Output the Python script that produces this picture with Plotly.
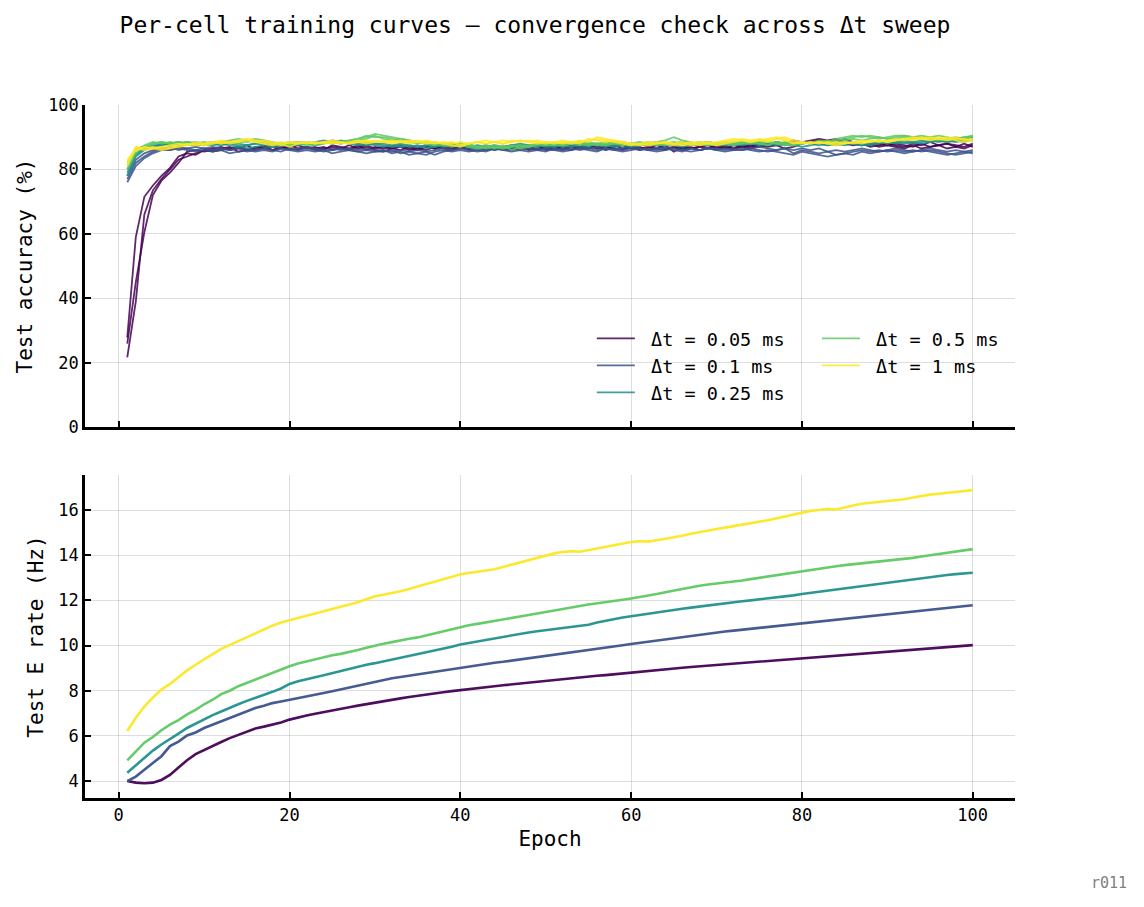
import plotly.graph_objects as go
from plotly.subplots import make_subplots

epochs = list(range(1, 101))
dt_labels = ["Δt = 0.05 ms", "Δt = 0.1 ms", "Δt = 0.25 ms", "Δt = 0.5 ms", "Δt = 1 ms"]
colors = ["rgba(68,1,84,0.85)", "rgba(59,82,139,0.85)", "rgba(33,145,140,0.85)",
          "rgba(94,201,98,0.85)", "rgba(253,231,37,0.85)"]
rate_colors = ["rgba(68,1,84,0.95)", "rgba(59,82,139,0.95)", "rgba(33,145,140,0.95)",
               "rgba(94,201,98,0.95)", "rgba(253,231,37,0.95)"]

# ---- Test accuracy (%) : three cells per Δt ----
acc_005_a = [27.8, 59.0, 71.5, 75.0, 78.0, 80.5, 84.0, 85.0, 84.5, 86.0,
             86.5, 87.0, 86.0, 86.5, 87.5, 86.0, 87.0, 87.5, 86.5, 87.0,
             87.5, 86.5, 87.0, 86.0, 87.5, 87.0, 86.5, 87.5, 86.0, 87.0,
             86.5, 87.0, 87.5, 86.5, 86.0, 87.0, 86.5, 87.5, 87.0, 86.5,
             87.0, 86.5, 87.5, 86.0, 87.0, 87.5, 86.5, 87.0, 86.0, 86.5,
             87.0, 86.5, 87.5, 87.0, 86.5, 87.5, 86.0, 87.0, 87.5, 86.5,
             87.0, 86.0, 86.5, 87.5, 85.5, 87.0, 86.5, 87.0, 87.5, 86.5,
             87.0, 86.5, 87.5, 87.0, 88.0, 87.5, 88.5, 88.0, 89.0, 88.5,
             89.0, 89.5, 89.0, 89.5, 88.5, 88.0, 87.5, 88.0, 87.0, 87.5,
             87.0, 86.5, 87.5, 86.5, 87.0, 87.5, 86.5, 87.0, 86.5, 87.5]
acc_005_b = [25.9, 45.0, 60.5, 72.0, 76.5, 79.0, 82.0, 85.5, 86.0, 85.5,
             86.0, 86.5, 87.0, 85.5, 86.0, 87.0, 86.5, 86.0, 87.0, 86.5,
             86.0, 87.0, 86.5, 87.0, 86.0, 86.5, 87.5, 86.5, 87.0, 86.0,
             85.5, 86.5, 86.0, 87.0, 86.5, 86.0, 87.0, 86.5, 86.0, 87.0,
             86.5, 87.0, 86.0, 86.5, 87.0, 86.5, 87.0, 86.0, 86.5, 87.0,
             86.5, 86.0, 87.0, 86.5, 87.5, 86.5, 87.0, 86.5, 86.0, 87.0,
             86.5, 87.0, 86.5, 86.0, 87.0, 86.5, 87.0, 86.0, 86.5, 87.0,
             86.5, 87.5, 87.0, 86.5, 87.5, 87.0, 87.5, 86.5, 87.0, 88.0,
             88.5, 88.0, 88.5, 89.0, 88.0, 87.5, 88.0, 87.0, 87.5, 88.0,
             87.5, 87.0, 88.0, 87.5, 88.5, 87.5, 88.0, 87.0, 88.0, 87.0]
acc_005_c = [21.6, 39.0, 66.0, 73.5, 77.0, 80.0, 83.0, 84.0, 85.0, 86.0,
             85.5, 86.0, 86.5, 87.0, 86.0, 86.5, 87.5, 86.0, 86.5, 87.5,
             86.5, 87.0, 86.0, 86.5, 87.0, 86.5, 86.0, 87.0, 87.5, 86.5,
             87.0, 86.5, 87.0, 86.0, 86.5, 87.5, 86.5, 87.0, 86.5, 87.0,
             86.0, 87.0, 86.5, 87.0, 86.5, 86.0, 87.0, 86.5, 87.5, 86.0,
             87.0, 86.5, 86.0, 87.5, 86.5, 87.0, 86.5, 87.5, 86.5, 87.0,
             86.0, 86.5, 87.5, 86.5, 87.0, 86.0, 86.5, 87.0, 86.5, 87.5,
             87.0, 86.5, 87.0, 87.5, 87.0, 88.0, 87.5, 88.0, 88.5, 88.0,
             88.5, 89.0, 88.5, 88.0, 89.5, 88.5, 88.0, 87.5, 88.0, 87.5,
             88.0, 87.5, 87.0, 88.0, 87.0, 87.5, 88.0, 87.5, 87.0, 88.0]

acc_01_a = [76.0, 81.0, 83.5, 85.0, 86.0, 86.0, 86.5, 86.0, 85.5, 86.0,
            85.5, 86.0, 85.0, 85.5, 86.0, 85.5, 86.0, 85.5, 86.5, 86.0,
            85.5, 86.0, 85.5, 86.0, 85.0, 85.5, 86.0, 85.5, 85.0, 85.5,
            86.0, 85.0, 85.5, 84.5, 85.0, 84.5, 85.5, 86.0, 85.5, 86.0,
            85.5, 86.0, 85.5, 86.5, 86.0, 85.5, 86.0, 85.5, 86.0, 86.5,
            86.0, 85.5, 86.0, 86.5, 86.0, 85.5, 86.5, 86.0, 85.5, 86.0,
            86.5, 86.0, 85.5, 86.0, 86.5, 86.0, 85.5, 86.0, 86.5, 86.0,
            85.5, 86.0, 86.5, 86.0, 85.5, 86.0, 85.5, 85.0, 84.5, 85.5,
            85.0, 84.5, 84.0, 84.5, 85.0, 84.5, 85.5, 85.0, 85.5, 86.0,
            85.5, 85.0, 85.5, 86.0, 85.5, 85.0, 84.5, 85.0, 85.5, 85.0]
acc_01_b = [77.0, 82.0, 84.0, 85.5, 86.5, 87.0, 86.0, 86.5, 86.0, 86.5,
            86.0, 86.5, 86.0, 86.5, 85.5, 86.0, 86.5, 86.0, 85.5, 86.5,
            86.0, 86.5, 86.0, 85.5, 86.0, 86.5, 86.0, 85.5, 86.0, 85.5,
            85.5, 86.0, 85.0, 85.5, 85.0, 85.5, 84.5, 85.5, 86.0, 86.5,
            86.0, 85.5, 86.0, 86.5, 86.0, 86.5, 86.0, 86.5, 86.0, 85.5,
            86.5, 86.0, 86.5, 86.0, 86.5, 87.0, 86.0, 86.5, 86.0, 86.5,
            86.0, 86.5, 86.0, 86.5, 86.0, 85.5, 86.5, 86.0, 86.5, 86.0,
            86.5, 86.0, 86.0, 86.5, 86.0, 85.5, 86.0, 86.5, 85.0, 86.0,
            85.5, 85.0, 85.5, 84.5, 85.0, 85.5, 86.0, 85.5, 86.0, 85.5,
            86.0, 85.5, 86.0, 85.5, 86.0, 85.5, 85.0, 84.5, 85.0, 85.5]
acc_01_c = [78.0, 83.0, 85.0, 86.0, 86.5, 86.0, 87.0, 86.5, 87.0, 86.5,
            87.0, 86.5, 86.0, 87.0, 86.5, 86.0, 86.5, 87.0, 86.5, 86.0,
            86.5, 87.0, 86.5, 86.0, 86.5, 86.0, 86.5, 86.0, 86.5, 86.0,
            86.0, 85.5, 86.0, 85.5, 86.0, 85.5, 86.0, 86.5, 86.0, 86.5,
            86.5, 86.0, 86.5, 86.0, 86.5, 86.0, 86.5, 87.0, 86.5, 86.0,
            86.0, 86.5, 86.0, 87.0, 86.5, 86.0, 86.5, 86.0, 86.5, 87.0,
            86.5, 86.0, 86.5, 87.0, 86.5, 86.0, 86.5, 86.0, 86.5, 86.5,
            86.0, 86.5, 86.0, 86.5, 87.0, 86.5, 86.0, 86.5, 86.0, 86.5,
            86.0, 86.5, 85.5, 86.0, 85.5, 86.0, 86.5, 86.0, 85.5, 86.0,
            86.5, 86.0, 85.5, 86.0, 86.5, 86.0, 85.5, 86.0, 85.5, 86.0]

acc_025_a = [78.0, 84.0, 86.0, 87.0, 87.5, 88.0, 88.5, 88.0, 87.5, 88.0,
             88.5, 88.0, 87.5, 87.0, 87.5, 88.0, 87.5, 87.0, 87.5, 88.0,
             88.5, 88.0, 87.5, 88.0, 89.0, 88.5, 88.0, 87.5, 88.0, 87.5,
             87.0, 87.5, 88.0, 87.5, 87.0, 87.5, 87.0, 87.5, 88.0, 87.5,
             87.0, 87.5, 87.0, 86.5, 87.0, 87.5, 88.0, 87.5, 87.0, 87.5,
             87.0, 87.5, 88.0, 87.5, 87.0, 88.0, 87.5, 88.0, 87.5, 87.0,
             87.5, 88.0, 88.5, 88.0, 87.5, 88.0, 87.5, 88.0, 88.5, 88.0,
             87.5, 88.0, 87.5, 88.0, 88.5, 88.0, 87.5, 88.0, 87.5, 87.0,
             87.5, 88.0, 87.5, 88.0, 87.5, 88.0, 87.5, 88.0, 88.5, 88.0,
             88.5, 88.0, 88.5, 89.0, 88.5, 89.0, 88.5, 89.0, 88.5, 89.5]
acc_025_b = [79.0, 84.5, 86.5, 87.0, 88.0, 87.5, 88.0, 88.5, 88.0, 87.5,
             88.0, 87.5, 88.0, 87.5, 86.5, 87.0, 87.5, 88.0, 87.5, 88.0,
             87.5, 88.0, 88.5, 89.0, 88.5, 88.0, 88.5, 88.0, 87.5, 88.0,
             87.5, 87.0, 87.5, 87.0, 87.5, 86.5, 87.0, 87.5, 88.0, 87.5,
             87.0, 86.5, 87.0, 87.5, 87.0, 87.5, 87.0, 87.5, 87.0, 88.0,
             87.5, 87.0, 87.5, 88.0, 87.5, 88.0, 87.5, 87.0, 87.5, 88.0,
             87.5, 88.0, 87.5, 88.0, 87.5, 87.0, 87.5, 88.0, 87.5, 88.0,
             88.0, 87.5, 88.0, 88.5, 88.0, 87.5, 88.0, 87.5, 88.0, 88.5,
             88.0, 87.5, 88.0, 87.5, 88.0, 88.5, 88.0, 87.5, 88.0, 88.5,
             88.0, 88.5, 88.0, 88.5, 89.0, 88.5, 89.0, 88.5, 89.0, 89.0]
acc_025_c = [80.0, 85.0, 86.5, 87.5, 87.5, 88.0, 87.5, 88.0, 88.5, 88.0,
             87.5, 88.0, 88.5, 88.0, 87.5, 88.0, 88.5, 88.0, 87.5, 87.0,
             88.0, 88.5, 88.0, 88.5, 88.0, 89.0, 88.5, 88.0, 88.5, 88.0,
             88.0, 87.5, 87.0, 87.5, 87.0, 87.5, 87.5, 87.0, 87.5, 87.0,
             87.5, 87.0, 87.5, 87.0, 86.5, 87.0, 87.5, 87.0, 87.5, 87.0,
             87.0, 87.5, 87.0, 87.5, 88.0, 87.5, 87.0, 87.5, 88.0, 87.5,
             88.0, 87.5, 88.0, 87.5, 88.0, 88.5, 88.0, 87.5, 88.0, 87.5,
             87.5, 88.0, 88.5, 88.0, 87.5, 88.0, 88.5, 88.0, 87.5, 88.0,
             88.5, 88.0, 87.5, 88.0, 88.5, 88.0, 87.5, 88.0, 88.5, 88.0,
             88.5, 89.0, 88.5, 88.0, 88.5, 89.0, 88.5, 89.0, 89.5, 90.0]

acc_05_a = [80.0, 85.0, 87.0, 88.0, 88.5, 88.0, 88.5, 88.0, 87.5, 88.0,
            88.5, 88.0, 88.5, 89.0, 88.5, 89.0, 88.0, 87.5, 88.0, 87.5,
            88.0, 88.5, 88.0, 88.5, 89.0, 88.5, 89.0, 89.5, 90.0, 91.0,
            90.5, 90.0, 89.5, 89.0, 88.5, 88.0, 88.5, 87.5, 88.0, 87.5,
            88.0, 87.0, 87.5, 86.5, 87.5, 86.0, 87.0, 87.5, 88.0, 87.5,
            88.0, 87.5, 88.0, 87.5, 88.5, 88.0, 87.5, 88.0, 88.5, 88.0,
            87.5, 88.0, 88.5, 89.0, 90.0, 89.0, 88.5, 88.0, 88.5, 88.0,
            88.5, 88.0, 88.5, 88.0, 89.0, 88.5, 88.0, 87.5, 88.0, 88.5,
            88.0, 89.0, 88.5, 89.0, 89.5, 90.0, 90.5, 90.0, 89.5, 90.0,
            90.5, 90.5, 90.0, 90.5, 90.0, 89.5, 89.0, 89.5, 90.0, 90.5]
acc_05_b = [81.0, 86.0, 87.5, 88.5, 88.0, 88.5, 88.0, 87.5, 88.0, 88.5,
            88.0, 88.5, 89.0, 89.5, 89.0, 88.5, 89.0, 88.5, 88.0, 88.5,
            88.0, 87.5, 88.0, 88.5, 88.0, 88.5, 89.0, 89.5, 90.5, 90.0,
            90.0, 89.5, 89.0, 88.5, 88.0, 88.5, 88.0, 87.5, 87.0, 87.5,
            87.0, 86.5, 87.0, 87.5, 87.0, 87.5, 86.5, 87.0, 87.5, 88.0,
            87.5, 88.0, 88.5, 88.0, 87.5, 88.0, 88.5, 88.0, 87.5, 88.0,
            88.5, 88.0, 87.5, 88.0, 88.5, 88.0, 87.5, 88.0, 87.5, 88.0,
            88.0, 88.5, 88.0, 88.5, 88.0, 87.5, 88.5, 88.0, 87.5, 88.0,
            88.5, 88.0, 88.5, 89.5, 90.0, 90.5, 90.0, 90.5, 90.0, 89.5,
            90.0, 90.5, 90.0, 89.5, 90.0, 90.5, 90.0, 89.5, 90.0, 90.0]
acc_05_c = [82.0, 86.5, 87.0, 88.0, 88.5, 88.0, 88.0, 88.5, 88.0, 87.5,
            88.5, 88.0, 88.5, 88.0, 89.0, 89.5, 89.0, 88.0, 87.5, 88.0,
            88.5, 88.0, 87.5, 88.0, 88.5, 88.0, 88.5, 89.0, 89.5, 90.5,
            89.5, 89.0, 89.5, 89.0, 88.5, 88.0, 87.5, 88.0, 87.5, 88.0,
            87.5, 87.0, 86.5, 87.0, 86.5, 87.0, 87.5, 87.0, 88.0, 87.5,
            88.0, 87.5, 88.0, 88.5, 88.0, 87.5, 88.0, 88.5, 88.0, 87.5,
            88.0, 88.5, 88.0, 87.5, 88.0, 88.5, 88.0, 88.5, 88.0, 87.5,
            88.0, 87.5, 88.0, 88.5, 88.0, 88.5, 88.0, 88.5, 88.0, 88.5,
            88.0, 88.5, 89.0, 88.5, 89.0, 89.5, 89.0, 89.5, 90.0, 89.5,
            89.5, 90.0, 89.5, 90.0, 89.5, 89.0, 89.5, 90.0, 89.5, 90.5]

acc_1_a = [81.0, 86.5, 86.0, 86.5, 86.0, 86.5, 87.0, 87.5, 88.0, 87.5,
           88.0, 88.5, 88.0, 88.5, 89.0, 88.5, 88.0, 87.5, 88.0, 87.0,
           88.0, 88.5, 88.0, 88.5, 89.0, 88.5, 88.0, 88.5, 88.0, 88.5,
           88.5, 88.0, 88.5, 88.0, 88.5, 89.0, 88.5, 88.0, 87.5, 87.0,
           88.0, 88.5, 89.0, 88.5, 88.0, 88.5, 89.0, 88.5, 88.0, 88.5,
           88.0, 88.5, 88.0, 88.5, 89.0, 89.5, 89.0, 88.5, 88.0, 87.5,
           88.0, 88.5, 88.0, 88.5, 88.0, 87.5, 88.0, 88.5, 88.0, 87.5,
           88.0, 88.5, 89.0, 88.5, 89.0, 88.5, 89.5, 90.0, 89.0, 88.5,
           88.0, 88.5, 88.0, 87.5, 88.0, 88.5, 88.0, 88.5, 89.0, 88.5,
           89.0, 89.5, 89.0, 89.5, 90.0, 89.5, 90.0, 89.0, 88.5, 89.0]
acc_1_b = [82.0, 87.0, 86.5, 87.0, 86.5, 87.0, 87.5, 88.0, 87.5, 88.0,
           88.5, 88.0, 88.5, 89.0, 89.5, 89.0, 88.5, 88.0, 88.5, 88.0,
           88.5, 88.0, 88.5, 88.0, 88.5, 88.0, 88.5, 89.0, 88.5, 89.0,
           88.5, 89.0, 88.5, 89.0, 88.5, 88.0, 88.5, 88.0, 88.5, 87.5,
           88.0, 88.5, 88.0, 88.5, 89.0, 88.5, 89.0, 88.5, 89.0, 88.5,
           88.5, 88.0, 88.5, 89.0, 88.5, 90.0, 89.5, 89.0, 88.5, 88.0,
           87.5, 88.0, 88.5, 88.0, 87.5, 88.0, 88.5, 87.5, 88.0, 88.5,
           89.0, 89.5, 89.0, 88.5, 89.0, 89.5, 90.0, 89.5, 88.5, 88.0,
           88.5, 88.0, 88.5, 88.0, 88.5, 88.0, 88.5, 89.0, 88.5, 89.0,
           89.5, 89.0, 89.5, 90.0, 89.5, 90.0, 89.5, 90.0, 89.0, 89.5]
acc_1_c = [83.0, 86.0, 87.0, 86.5, 87.0, 87.5, 88.0, 87.5, 88.5, 88.0,
           88.5, 89.0, 88.5, 89.0, 89.5, 88.5, 89.0, 88.5, 87.5, 88.5,
           88.0, 88.5, 88.0, 88.5, 88.0, 88.5, 88.0, 88.5, 89.0, 88.5,
           89.0, 88.5, 89.0, 88.5, 89.0, 88.5, 88.0, 88.5, 88.0, 88.5,
           88.0, 88.5, 88.0, 88.5, 88.0, 89.0, 88.5, 89.0, 88.5, 88.0,
           88.5, 89.0, 88.5, 88.0, 89.5, 89.0, 88.5, 89.0, 88.5, 88.0,
           88.0, 87.5, 88.0, 88.5, 88.0, 88.5, 87.5, 88.0, 88.5, 88.0,
           88.5, 89.0, 89.5, 89.0, 89.5, 89.0, 89.5, 89.0, 88.0, 88.5,
           88.0, 88.5, 88.0, 88.5, 88.0, 88.5, 89.0, 88.5, 89.0, 88.5,
           89.0, 89.5, 90.0, 89.5, 89.0, 89.5, 89.0, 89.5, 89.5, 89.0]

# ---- Test E rate (Hz) ----
rate_005 = [4.00, 3.93, 3.90, 3.93, 4.05, 4.27, 4.60, 4.92, 5.19, 5.38,
            5.56, 5.73, 5.90, 6.05, 6.19, 6.33, 6.41, 6.49, 6.59, 6.72,
            6.82, 6.90, 6.98, 7.06, 7.13, 7.20, 7.27, 7.34, 7.41, 7.48,
            7.55, 7.60, 7.66, 7.72, 7.78, 7.83, 7.88, 7.93, 7.98, 8.03,
            8.07, 8.11, 8.15, 8.20, 8.24, 8.28, 8.32, 8.36, 8.40, 8.45,
            8.48, 8.52, 8.55, 8.59, 8.62, 8.66, 8.69, 8.73, 8.77, 8.81,
            8.84, 8.88, 8.91, 8.95, 8.98, 9.02, 9.05, 9.08, 9.11, 9.14,
            9.17, 9.20, 9.23, 9.26, 9.29, 9.32, 9.35, 9.38, 9.41, 9.45,
            9.48, 9.51, 9.54, 9.57, 9.60, 9.62, 9.65, 9.68, 9.71, 9.74,
            9.77, 9.79, 9.82, 9.85, 9.88, 9.90, 9.93, 9.96, 9.99, 10.02]
rate_01 = [4.00, 4.20, 4.50, 4.80, 5.10, 5.55, 5.75, 6.02, 6.15, 6.35,
           6.50, 6.65, 6.80, 6.95, 7.08, 7.23, 7.33, 7.45, 7.52, 7.59,
           7.68, 7.76, 7.83, 7.90, 7.98, 8.06, 8.15, 8.24, 8.33, 8.41,
           8.48, 8.55, 8.61, 8.67, 8.73, 8.78, 8.84, 8.89, 8.95, 9.02,
           9.07, 9.12, 9.18, 9.24, 9.28, 9.33, 9.38, 9.43, 9.48, 9.53,
           9.58, 9.63, 9.69, 9.75, 9.80, 9.86, 9.91, 9.96, 10.01, 10.07,
           10.12, 10.17, 10.23, 10.29, 10.34, 10.40, 10.45, 10.50, 10.54, 10.58,
           10.62, 10.66, 10.70, 10.73, 10.76, 10.80, 10.84, 10.88, 10.92, 10.96,
           11.00, 11.04, 11.08, 11.12, 11.16, 11.20, 11.24, 11.28, 11.32, 11.36,
           11.40, 11.44, 11.48, 11.52, 11.56, 11.60, 11.64, 11.68, 11.72, 11.78]
rate_025 = [4.37, 4.70, 5.05, 5.35, 5.62, 5.88, 6.10, 6.35, 6.55, 6.75,
            6.92, 7.08, 7.25, 7.40, 7.55, 7.68, 7.80, 7.95, 8.10, 8.30,
            8.42, 8.52, 8.60, 8.68, 8.78, 8.87, 8.97, 9.07, 9.15, 9.22,
            9.30, 9.38, 9.45, 9.53, 9.60, 9.68, 9.76, 9.85, 9.95, 10.05,
            10.12, 10.18, 10.24, 10.31, 10.38, 10.45, 10.52, 10.58, 10.63, 10.68,
            10.75, 10.80, 10.84, 10.87, 10.92, 11.02, 11.10, 11.17, 11.24, 11.30,
            11.36, 11.42, 11.48, 11.54, 11.58, 11.63, 11.68, 11.73, 11.79, 11.84,
            11.88, 11.92, 11.96, 12.00, 12.04, 12.08, 12.12, 12.17, 12.22, 12.28,
            12.33, 12.38, 12.43, 12.48, 12.53, 12.58, 12.63, 12.68, 12.74, 12.80,
            12.85, 12.90, 12.95, 13.00, 13.04, 13.08, 13.12, 13.16, 13.19, 13.22]
rate_05 = [4.92, 5.30, 5.70, 5.95, 6.25, 6.50, 6.70, 6.95, 7.15, 7.40,
           7.60, 7.85, 8.00, 8.20, 8.35, 8.50, 8.65, 8.80, 8.95, 9.08,
           9.20, 9.30, 9.38, 9.48, 9.57, 9.63, 9.70, 9.80, 9.90, 10.00,
           10.08, 10.15, 10.24, 10.30, 10.36, 10.45, 10.55, 10.64, 10.72, 10.82,
           10.90, 10.96, 11.02, 11.08, 11.14, 11.20, 11.27, 11.35, 11.42, 11.48,
           11.55, 11.62, 11.68, 11.75, 11.82, 11.88, 11.93, 11.98, 12.03, 12.08,
           12.14, 12.20, 12.28, 12.36, 12.44, 12.52, 12.60, 12.65, 12.70, 12.74,
           12.78, 12.83, 12.88, 12.94, 13.00, 13.06, 13.12, 13.18, 13.24, 13.30,
           13.36, 13.41, 13.46, 13.51, 13.56, 13.60, 13.64, 13.67, 13.70, 13.73,
           13.77, 13.82, 13.88, 13.94, 14.00, 14.06, 14.12, 14.18, 14.23, 14.27]
rate_1 = [6.22, 6.80, 7.30, 7.70, 8.05, 8.30, 8.60, 8.90, 9.15, 9.40,
          9.62, 9.85, 10.02, 10.20, 10.38, 10.55, 10.70, 10.88, 11.02, 11.12,
          11.20, 11.30, 11.42, 11.52, 11.60, 11.70, 11.80, 11.92, 12.05, 12.18,
          12.25, 12.32, 12.40, 12.50, 12.62, 12.72, 12.82, 12.92, 13.04, 13.16,
          13.22, 13.28, 13.32, 13.38, 13.48, 13.58, 13.68, 13.78, 13.90, 14.00,
          14.08, 14.14, 14.18, 14.15, 14.22, 14.30, 14.38, 14.45, 14.52, 14.58,
          14.62, 14.60, 14.66, 14.72, 14.78, 14.86, 14.95, 15.03, 15.10, 15.16,
          15.22, 15.28, 15.34, 15.40, 15.47, 15.55, 15.63, 15.71, 15.80, 15.90,
          15.96, 16.00, 16.05, 16.02, 16.12, 16.20, 16.28, 16.32, 16.35, 16.37,
          16.42, 16.48, 16.55, 16.62, 16.68, 16.72, 16.76, 16.80, 16.85, 16.88]

acc_groups = [[acc_005_a, acc_005_b, acc_005_c],
              [acc_01_a, acc_01_b, acc_01_c],
              [acc_025_a, acc_025_b, acc_025_c],
              [acc_05_a, acc_05_b, acc_05_c],
              [acc_1_a, acc_1_b, acc_1_c]]
rate_series = [rate_005, rate_01, rate_025, rate_05, rate_1]

FONT = "DejaVu Sans Mono"

fig = make_subplots(rows=2, cols=1, shared_xaxes=False, vertical_spacing=0.0)

for i, group in enumerate(acc_groups):
    leg = "legend" if i < 3 else "legend2"
    for j, cell in enumerate(group):
        fig.add_trace(go.Scatter(
            x=epochs, y=cell, mode="lines",
            line=dict(color=colors[i], width=1.8),
            name=" " + dt_labels[i], showlegend=(j == 0), legend=leg,
            legendgroup=dt_labels[i]), row=1, col=1)

for i, series in enumerate(rate_series):
    fig.add_trace(go.Scatter(
        x=epochs, y=series, mode="lines",
        line=dict(color=rate_colors[i], width=2.6),
        name=dt_labels[i], showlegend=False,
        legendgroup=dt_labels[i]), row=2, col=1)

H_top, H_bot = 105, 798
span = H_bot - H_top
top_dom = [(H_bot - 427) / span, 1.0]
bot_dom = [0.0, (H_bot - 475) / span]

axis_common = dict(
    showline=True, linecolor="black", linewidth=2.5, mirror=False,
    ticks="inside", ticklen=6, tickwidth=2, tickcolor="black",
    showgrid=True, gridcolor="rgba(0,0,0,0.13)", gridwidth=1,
    zeroline=False, tickfont=dict(family=FONT, size=17, color="black"),
)

fig.update_xaxes(axis_common)
fig.update_yaxes(axis_common)

TITLE_FONT = dict(family=FONT, size=21, color="black")

fig.update_xaxes(range=[-3.95, 104.95], tickvals=[0, 20, 40, 60, 80, 100],
                 showticklabels=False, row=1, col=1)
fig.update_xaxes(range=[-3.95, 104.95], tickvals=[0, 20, 40, 60, 80, 100],
                 title=dict(text="Epoch", font=TITLE_FONT, standoff=8),
                 row=2, col=1)
fig.update_yaxes(range=[0, 100], tickvals=[0, 20, 40, 60, 80, 100], domain=top_dom,
                 title=dict(text="Test accuracy (%)", font=TITLE_FONT, standoff=10),
                 row=1, col=1)
fig.update_yaxes(range=[3.25, 17.55], tickvals=[4, 6, 8, 10, 12, 14, 16], domain=bot_dom,
                 title=dict(text="Test E rate (Hz)", font=TITLE_FONT, standoff=10),
                 row=2, col=1)

legend_style = dict(
    bgcolor="rgba(0,0,0,0)", borderwidth=0,
    font=dict(family=FONT, size=18.5, color="black"),
    xanchor="left", yanchor="top", itemwidth=38, tracegroupgap=0,
)

fig.update_layout(
    width=1144, height=907,
    margin=dict(l=85, r=129, t=H_top, b=907 - H_bot),
    paper_bgcolor="white", plot_bgcolor="white",
    showlegend=True,
    legend=dict(legend_style, x=0.545, y=0.69),
    legend2=dict(legend_style, x=0.787, y=0.69),
    title=dict(text="Per‑cell training curves — convergence check across Δt sweep",
               font=dict(family=FONT, size=23, color="black"),
               x=535 / 1144, xanchor="center", y=1 - 25 / 907, yanchor="middle"),
    annotations=[dict(text="r011", xref="paper", yref="paper",
                      x=(1109 - 85) / 930, y=(798 - 883) / span,
                      xanchor="center", yanchor="middle", showarrow=False,
                      font=dict(family=FONT, size=15, color="gray"))],
)

fig.write_html("out.html")
